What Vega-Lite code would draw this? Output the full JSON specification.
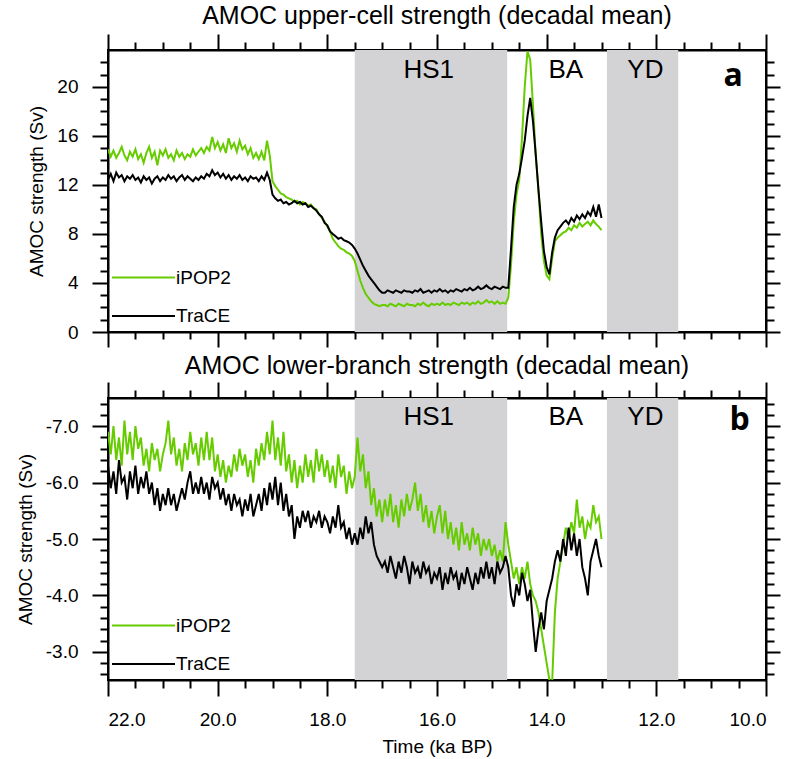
{
  "$schema": "https://vega.github.io/schema/vega-lite/v6.json",
  "background": "white",
  "padding": {"left": 15, "top": 3, "right": 0, "bottom": 0},
  "spacing": 4,
  "config": {
    "font": "Liberation Sans",
    "view": {"stroke": "black", "strokeWidth": 2},
    "axis": {"domainColor": "black", "domainWidth": 2, "tickColor": "black", "tickWidth": 2, "labelColor": "black", "labelFont": "Liberation Sans", "labelFontSize": 19, "titleFont": "Liberation Sans", "titleFontSize": 19, "titleFontWeight": "normal", "titleColor": "black", "grid": false},
    "title": {"font": "Liberation Sans", "fontSize": 25, "fontWeight": "normal", "color": "black"},
    "legend": {"padding": 0, "labelFont": "Liberation Sans", "labelFontSize": 19, "labelColor": "black", "symbolType": "stroke", "symbolSize": 3969, "symbolStrokeWidth": 2, "clipHeight": 19, "rowPadding": 18.5, "labelOffset": 0, "direction": "vertical", "columns": 1}
  },
  "resolve": {"scale": {"color": "independent"}, "legend": {"color": "independent"}},
  "datasets": {
    "shades": [{"start": 17.5, "end": 14.72}, {"start": 12.9, "end": 11.6}],
    "periods": [{"name": "HS1", "t": 16.15}, {"name": "BA", "t": 13.65}, {"name": "YD", "t": 12.2}],
    "series": [
      {"t":22.00,"uI":14.9,"uT":12.4,"lI":-6.9,"lT":-6.3},
      {"t":21.95,"uI":14.3,"uT":12.9,"lI":-6.5,"lT":-5.9},
      {"t":21.90,"uI":14.8,"uT":12.3,"lI":-7.0,"lT":-6.2},
      {"t":21.85,"uI":14.2,"uT":13.0,"lI":-6.4,"lT":-5.8},
      {"t":21.80,"uI":14.6,"uT":12.6,"lI":-6.8,"lT":-6.4},
      {"t":21.75,"uI":15.1,"uT":12.8,"lI":-6.3,"lT":-6.0},
      {"t":21.70,"uI":14.4,"uT":12.3,"lI":-7.1,"lT":-6.1},
      {"t":21.65,"uI":14.0,"uT":12.7,"lI":-6.5,"lT":-5.7},
      {"t":21.60,"uI":14.7,"uT":12.5,"lI":-6.9,"lT":-6.2},
      {"t":21.55,"uI":14.3,"uT":12.8,"lI":-6.4,"lT":-5.9},
      {"t":21.50,"uI":14.9,"uT":12.4,"lI":-7.0,"lT":-6.3},
      {"t":21.45,"uI":14.1,"uT":12.6,"lI":-6.6,"lT":-5.8},
      {"t":21.40,"uI":14.5,"uT":12.2,"lI":-6.8,"lT":-6.1},
      {"t":21.35,"uI":13.8,"uT":12.7,"lI":-6.3,"lT":-5.9},
      {"t":21.30,"uI":14.6,"uT":12.4,"lI":-6.6,"lT":-6.2},
      {"t":21.25,"uI":15.1,"uT":12.6,"lI":-6.2,"lT":-5.8},
      {"t":21.20,"uI":14.2,"uT":12.1,"lI":-6.7,"lT":-6.0},
      {"t":21.15,"uI":14.7,"uT":12.5,"lI":-6.4,"lT":-5.6},
      {"t":21.10,"uI":13.6,"uT":12.7,"lI":-6.6,"lT":-5.9},
      {"t":21.05,"uI":14.8,"uT":12.3,"lI":-6.2,"lT":-5.5},
      {"t":21.00,"uI":14.4,"uT":12.6,"lI":-6.5,"lT":-5.8},
      {"t":20.95,"uI":14.9,"uT":12.4,"lI":-6.7,"lT":-5.6},
      {"t":20.90,"uI":14.2,"uT":12.8,"lI":-7.1,"lT":-5.9},
      {"t":20.85,"uI":14.5,"uT":12.5,"lI":-6.5,"lT":-5.6},
      {"t":20.80,"uI":14.0,"uT":12.7,"lI":-6.8,"lT":-5.8},
      {"t":20.75,"uI":14.8,"uT":12.3,"lI":-6.3,"lT":-5.5},
      {"t":20.70,"uI":14.3,"uT":12.6,"lI":-6.6,"lT":-5.7},
      {"t":20.65,"uI":14.6,"uT":12.8,"lI":-6.2,"lT":-5.9},
      {"t":20.60,"uI":14.1,"uT":12.4,"lI":-6.7,"lT":-5.7},
      {"t":20.55,"uI":14.5,"uT":12.7,"lI":-6.4,"lT":-6.0},
      {"t":20.50,"uI":14.3,"uT":12.5,"lI":-6.9,"lT":-6.2},
      {"t":20.45,"uI":14.9,"uT":12.3,"lI":-6.5,"lT":-5.8},
      {"t":20.40,"uI":14.4,"uT":12.6,"lI":-6.7,"lT":-6.0},
      {"t":20.35,"uI":14.7,"uT":12.4,"lI":-6.3,"lT":-5.8},
      {"t":20.30,"uI":15.0,"uT":12.7,"lI":-6.8,"lT":-6.1},
      {"t":20.25,"uI":14.6,"uT":12.5,"lI":-6.4,"lT":-5.8},
      {"t":20.20,"uI":15.1,"uT":12.9,"lI":-6.9,"lT":-6.0},
      {"t":20.15,"uI":14.8,"uT":12.7,"lI":-6.4,"lT":-5.7},
      {"t":20.10,"uI":15.9,"uT":13.2,"lI":-6.8,"lT":-6.1},
      {"t":20.05,"uI":15.0,"uT":12.8,"lI":-6.2,"lT":-5.9},
      {"t":20.00,"uI":15.5,"uT":13.0,"lI":-6.5,"lT":-6.0},
      {"t":19.95,"uI":14.8,"uT":12.6,"lI":-6.1,"lT":-5.7},
      {"t":19.90,"uI":15.3,"uT":12.9,"lI":-6.4,"lT":-5.9},
      {"t":19.85,"uI":14.6,"uT":12.5,"lI":-6.0,"lT":-5.6},
      {"t":19.80,"uI":15.8,"uT":12.8,"lI":-6.3,"lT":-5.8},
      {"t":19.75,"uI":15.0,"uT":12.4,"lI":-6.1,"lT":-5.5},
      {"t":19.70,"uI":15.4,"uT":12.7,"lI":-6.5,"lT":-5.8},
      {"t":19.65,"uI":14.7,"uT":12.5,"lI":-6.2,"lT":-5.6},
      {"t":19.60,"uI":15.6,"uT":12.8,"lI":-6.6,"lT":-5.7},
      {"t":19.55,"uI":14.9,"uT":12.4,"lI":-6.3,"lT":-5.4},
      {"t":19.50,"uI":15.2,"uT":12.6,"lI":-6.5,"lT":-5.7},
      {"t":19.45,"uI":14.5,"uT":12.3,"lI":-6.1,"lT":-5.5},
      {"t":19.40,"uI":15.0,"uT":12.7,"lI":-6.4,"lT":-5.8},
      {"t":19.35,"uI":14.2,"uT":12.5,"lI":-6.0,"lT":-5.4},
      {"t":19.30,"uI":14.6,"uT":12.6,"lI":-6.6,"lT":-5.6},
      {"t":19.25,"uI":14.1,"uT":12.3,"lI":-6.3,"lT":-5.8},
      {"t":19.20,"uI":14.7,"uT":12.7,"lI":-6.7,"lT":-5.5},
      {"t":19.15,"uI":14.0,"uT":12.4,"lI":-6.4,"lT":-5.9},
      {"t":19.10,"uI":15.6,"uT":13.0,"lI":-6.9,"lT":-5.6},
      {"t":19.05,"uI":14.4,"uT":12.4,"lI":-6.5,"lT":-6.0},
      {"t":19.00,"uI":12.3,"uT":11.2,"lI":-7.1,"lT":-5.7},
      {"t":18.95,"uI":11.9,"uT":10.9,"lI":-6.4,"lT":-6.1},
      {"t":18.90,"uI":11.6,"uT":10.7,"lI":-6.8,"lT":-5.6},
      {"t":18.85,"uI":11.3,"uT":10.8,"lI":-6.3,"lT":-6.0},
      {"t":18.80,"uI":11.2,"uT":10.5,"lI":-6.9,"lT":-5.5},
      {"t":18.75,"uI":11.0,"uT":10.6,"lI":-6.2,"lT":-5.8},
      {"t":18.70,"uI":10.9,"uT":10.4,"lI":-6.5,"lT":-5.4},
      {"t":18.65,"uI":10.8,"uT":10.5,"lI":-6.0,"lT":-5.6},
      {"t":18.60,"uI":10.6,"uT":10.7,"lI":-6.4,"lT":-5.0},
      {"t":18.55,"uI":10.7,"uT":10.5,"lI":-5.9,"lT":-5.4},
      {"t":18.50,"uI":10.4,"uT":10.6,"lI":-6.3,"lT":-5.2},
      {"t":18.45,"uI":10.6,"uT":10.4,"lI":-6.0,"lT":-5.5},
      {"t":18.40,"uI":10.5,"uT":10.5,"lI":-6.5,"lT":-5.3},
      {"t":18.35,"uI":10.3,"uT":10.2,"lI":-6.1,"lT":-5.5},
      {"t":18.30,"uI":10.4,"uT":10.3,"lI":-6.4,"lT":-5.2},
      {"t":18.25,"uI":10.1,"uT":10.1,"lI":-6.0,"lT":-5.4},
      {"t":18.20,"uI":10.0,"uT":9.9,"lI":-6.6,"lT":-5.3},
      {"t":18.15,"uI":9.6,"uT":9.6,"lI":-6.2,"lT":-5.5},
      {"t":18.10,"uI":9.3,"uT":9.4,"lI":-6.5,"lT":-5.2},
      {"t":18.05,"uI":9.0,"uT":8.9,"lI":-6.1,"lT":-5.4},
      {"t":18.00,"uI":8.6,"uT":8.7,"lI":-6.4,"lT":-5.3},
      {"t":17.95,"uI":8.2,"uT":8.2,"lI":-6.0,"lT":-5.1},
      {"t":17.90,"uI":7.6,"uT":8.0,"lI":-6.3,"lT":-5.4},
      {"t":17.85,"uI":7.3,"uT":7.8,"lI":-5.9,"lT":-5.2},
      {"t":17.80,"uI":7.0,"uT":7.6,"lI":-6.5,"lT":-5.6},
      {"t":17.75,"uI":6.8,"uT":7.7,"lI":-6.1,"lT":-5.2},
      {"t":17.70,"uI":6.7,"uT":7.5,"lI":-6.3,"lT":-5.3},
      {"t":17.65,"uI":6.5,"uT":7.4,"lI":-5.8,"lT":-5.0},
      {"t":17.60,"uI":6.4,"uT":7.3,"lI":-6.2,"lT":-5.2},
      {"t":17.55,"uI":6.2,"uT":7.1,"lI":-5.9,"lT":-4.9},
      {"t":17.50,"uI":5.8,"uT":6.8,"lI":-6.1,"lT":-5.1},
      {"t":17.45,"uI":5.0,"uT":6.4,"lI":-6.8,"lT":-4.9},
      {"t":17.40,"uI":4.2,"uT":5.9,"lI":-6.2,"lT":-5.2},
      {"t":17.35,"uI":3.6,"uT":5.4,"lI":-6.5,"lT":-5.0},
      {"t":17.30,"uI":3.1,"uT":5.0,"lI":-5.9,"lT":-5.4},
      {"t":17.25,"uI":2.8,"uT":4.6,"lI":-6.2,"lT":-5.1},
      {"t":17.20,"uI":2.5,"uT":4.3,"lI":-5.6,"lT":-5.3},
      {"t":17.15,"uI":2.3,"uT":4.0,"lI":-5.9,"lT":-4.9},
      {"t":17.10,"uI":2.2,"uT":3.7,"lI":-5.4,"lT":-4.7},
      {"t":17.05,"uI":2.1,"uT":3.4,"lI":-5.7,"lT":-4.6},
      {"t":17.00,"uI":2.2,"uT":3.2,"lI":-5.3,"lT":-4.5},
      {"t":16.95,"uI":2.2,"uT":3.2,"lI":-5.7,"lT":-4.6},
      {"t":16.90,"uI":2.1,"uT":3.4,"lI":-5.4,"lT":-4.4},
      {"t":16.85,"uI":2.3,"uT":3.3,"lI":-5.8,"lT":-4.7},
      {"t":16.80,"uI":2.2,"uT":3.2,"lI":-5.3,"lT":-4.5},
      {"t":16.75,"uI":2.1,"uT":3.4,"lI":-5.6,"lT":-4.3},
      {"t":16.70,"uI":2.3,"uT":3.3,"lI":-5.2,"lT":-4.6},
      {"t":16.65,"uI":2.2,"uT":3.2,"lI":-5.7,"lT":-4.4},
      {"t":16.60,"uI":2.1,"uT":3.4,"lI":-5.4,"lT":-4.7},
      {"t":16.55,"uI":2.3,"uT":3.3,"lI":-5.8,"lT":-4.5},
      {"t":16.50,"uI":2.2,"uT":3.3,"lI":-5.5,"lT":-4.2},
      {"t":16.45,"uI":2.2,"uT":3.2,"lI":-5.7,"lT":-4.6},
      {"t":16.40,"uI":2.1,"uT":3.4,"lI":-6.0,"lT":-4.4},
      {"t":16.35,"uI":2.3,"uT":3.3,"lI":-5.5,"lT":-4.5},
      {"t":16.30,"uI":2.2,"uT":3.5,"lI":-5.8,"lT":-4.3},
      {"t":16.25,"uI":2.4,"uT":3.2,"lI":-5.3,"lT":-4.6},
      {"t":16.20,"uI":2.2,"uT":3.3,"lI":-5.6,"lT":-4.4},
      {"t":16.15,"uI":2.1,"uT":3.4,"lI":-5.2,"lT":-4.5},
      {"t":16.10,"uI":2.3,"uT":3.2,"lI":-5.5,"lT":-4.2},
      {"t":16.05,"uI":2.2,"uT":3.4,"lI":-5.1,"lT":-4.4},
      {"t":16.00,"uI":2.3,"uT":3.3,"lI":-5.4,"lT":-4.3},
      {"t":15.95,"uI":2.2,"uT":3.5,"lI":-5.6,"lT":-4.5},
      {"t":15.90,"uI":2.4,"uT":3.3,"lI":-5.1,"lT":-4.1},
      {"t":15.85,"uI":2.2,"uT":3.4,"lI":-5.5,"lT":-4.4},
      {"t":15.80,"uI":2.3,"uT":3.2,"lI":-5.0,"lT":-4.2},
      {"t":15.75,"uI":2.2,"uT":3.4,"lI":-5.3,"lT":-4.5},
      {"t":15.70,"uI":2.4,"uT":3.3,"lI":-4.9,"lT":-4.3},
      {"t":15.65,"uI":2.3,"uT":3.5,"lI":-5.2,"lT":-4.4},
      {"t":15.60,"uI":2.2,"uT":3.4,"lI":-4.8,"lT":-4.1},
      {"t":15.55,"uI":2.4,"uT":3.3,"lI":-5.3,"lT":-4.4},
      {"t":15.50,"uI":2.3,"uT":3.5,"lI":-4.9,"lT":-4.2},
      {"t":15.45,"uI":2.4,"uT":3.4,"lI":-5.1,"lT":-4.5},
      {"t":15.40,"uI":2.2,"uT":3.6,"lI":-4.8,"lT":-4.3},
      {"t":15.35,"uI":2.4,"uT":3.4,"lI":-5.2,"lT":-4.1},
      {"t":15.30,"uI":2.3,"uT":3.5,"lI":-4.9,"lT":-4.4},
      {"t":15.25,"uI":2.5,"uT":3.7,"lI":-5.1,"lT":-4.2},
      {"t":15.20,"uI":2.3,"uT":3.5,"lI":-4.7,"lT":-4.5},
      {"t":15.15,"uI":2.4,"uT":3.6,"lI":-5.0,"lT":-4.3},
      {"t":15.10,"uI":2.6,"uT":3.8,"lI":-4.8,"lT":-4.6},
      {"t":15.05,"uI":2.4,"uT":3.6,"lI":-5.0,"lT":-4.3},
      {"t":15.00,"uI":2.5,"uT":3.5,"lI":-4.7,"lT":-4.5},
      {"t":14.95,"uI":2.3,"uT":3.7,"lI":-4.9,"lT":-4.2},
      {"t":14.90,"uI":2.5,"uT":3.6,"lI":-4.6,"lT":-4.6},
      {"t":14.85,"uI":2.3,"uT":3.5,"lI":-4.8,"lT":-4.4},
      {"t":14.80,"uI":2.4,"uT":3.7,"lI":-4.6,"lT":-4.5},
      {"t":14.75,"uI":2.3,"uT":3.6,"lI":-5.3,"lT":-4.7},
      {"t":14.70,"uI":2.8,"uT":3.6,"lI":-4.9,"lT":-4.5},
      {"t":14.65,"uI":5.5,"uT":6.8,"lI":-4.6,"lT":-4.0},
      {"t":14.60,"uI":9.0,"uT":10.2,"lI":-4.3,"lT":-3.8},
      {"t":14.55,"uI":11.2,"uT":12.0,"lI":-4.5,"lT":-4.2},
      {"t":14.50,"uI":12.4,"uT":12.9,"lI":-4.2,"lT":-4.0},
      {"t":14.45,"uI":15.8,"uT":14.2,"lI":-4.5,"lT":-4.4},
      {"t":14.40,"uI":20.0,"uT":15.6,"lI":-4.3,"lT":-4.2},
      {"t":14.35,"uI":22.9,"uT":17.6,"lI":-4.6,"lT":-3.9},
      {"t":14.30,"uI":22.2,"uT":19.1,"lI":-4.2,"lT":-4.1},
      {"t":14.25,"uI":18.5,"uT":17.2,"lI":-4.0,"lT":-3.5},
      {"t":14.20,"uI":14.5,"uT":14.5,"lI":-3.9,"lT":-3.0},
      {"t":14.15,"uI":11.6,"uT":11.6,"lI":-3.7,"lT":-3.4},
      {"t":14.10,"uI":8.0,"uT":9.0,"lI":-3.4,"lT":-3.7},
      {"t":14.05,"uI":5.8,"uT":6.6,"lI":-3.1,"lT":-3.4},
      {"t":14.00,"uI":4.6,"uT":5.3,"lI":-2.8,"lT":-3.9},
      {"t":13.95,"uI":4.3,"uT":4.7,"lI":-2.5,"lT":-4.1},
      {"t":13.90,"uI":6.0,"uT":6.5,"lI":-2.45,"lT":-4.3},
      {"t":13.85,"uI":7.4,"uT":7.7,"lI":-3.7,"lT":-4.6},
      {"t":13.80,"uI":7.7,"uT":8.3,"lI":-4.3,"lT":-4.8},
      {"t":13.75,"uI":7.9,"uT":8.6,"lI":-4.6,"lT":-4.6},
      {"t":13.70,"uI":8.1,"uT":8.9,"lI":-4.9,"lT":-5.0},
      {"t":13.65,"uI":8.2,"uT":9.1,"lI":-5.2,"lT":-4.7},
      {"t":13.60,"uI":8.5,"uT":8.8,"lI":-5.0,"lT":-5.2},
      {"t":13.55,"uI":8.3,"uT":9.3,"lI":-5.3,"lT":-4.8},
      {"t":13.50,"uI":8.7,"uT":9.0,"lI":-5.1,"lT":-5.1},
      {"t":13.45,"uI":8.5,"uT":9.5,"lI":-5.7,"lT":-4.7},
      {"t":13.40,"uI":8.9,"uT":9.2,"lI":-5.2,"lT":-5.0},
      {"t":13.35,"uI":8.6,"uT":9.6,"lI":-5.4,"lT":-4.5},
      {"t":13.30,"uI":8.8,"uT":9.3,"lI":-5.0,"lT":-4.3},
      {"t":13.25,"uI":9.0,"uT":9.8,"lI":-5.3,"lT":-4.0},
      {"t":13.20,"uI":8.7,"uT":9.5,"lI":-5.2,"lT":-4.6},
      {"t":13.15,"uI":9.1,"uT":10.2,"lI":-5.6,"lT":-4.8},
      {"t":13.10,"uI":8.8,"uT":9.4,"lI":-5.3,"lT":-5.0},
      {"t":13.05,"uI":8.6,"uT":10.4,"lI":-5.4,"lT":-4.7},
      {"t":13.00,"uI":8.3,"uT":9.3,"lI":-5.0,"lT":-4.5}
    ]
  },
  "vconcat": [
    {
      "width": 658,
      "height": 282,
      "title": {"text": "AMOC upper-cell strength (decadal mean)", "offset": 4},
      "resolve": {"axis": {"x": "independent", "y": "independent"}},
      "layer": [
        {
          "data": {"name": "shades"},
          "mark": {"type": "rect", "color": "#d3d3d5"},
          "encoding": {
            "x": {"field": "start", "type": "quantitative", "scale": {"domain": [10, 22], "reverse": true, "nice": false, "zero": false},
                  "axis": {"orient": "bottom", "values": [10,10.5,11,11.5,12,12.5,13,13.5,14,14.5,15,15.5,16,16.5,17,17.5,18,18.5,19,19.5,20,20.5,21,21.5,22], "labels": false, "title": null,
                           "tickSize": {"condition": {"test": "datum.value % 2 === 0", "value": 15}, "value": 7}}},
            "x2": {"field": "end"}
          }
        },
        {
          "data": {"name": "series"},
          "transform": [{"fold": ["uI", "uT"], "as": ["model", "v"]}],
          "mark": {"type": "line", "strokeWidth": 2, "clip": true},
          "encoding": {
            "x": {"field": "t", "type": "quantitative", "scale": {"domain": [10, 22], "reverse": true, "nice": false, "zero": false},
                  "axis": {"orient": "top", "values": [10,10.5,11,11.5,12,12.5,13,13.5,14,14.5,15,15.5,16,16.5,17,17.5,18,18.5,19,19.5,20,20.5,21,21.5,22], "labels": false, "title": null,
                           "tickSize": {"condition": {"test": "datum.value % 2 === 0", "value": 16}, "value": 8}}},
            "y": {"field": "v", "type": "quantitative", "scale": {"domain": [0, 23], "nice": false, "zero": false},
                  "axis": {"orient": "left", "values": [0,1,2,3,4,5,6,7,8,9,10,11,12,13,14,15,16,17,18,19,20,21,22], "labelExpr": "datum.value % 4 === 0 ? datum.label : ''", "title": "AMOC strength (Sv)", "titlePadding": 10, "labelPadding": 14,
                           "tickSize": {"condition": {"test": "datum.value % 4 === 0", "value": 16}, "value": 8}}},
            "color": {"field": "model", "type": "nominal", "scale": {"domain": ["uI", "uT"], "range": ["#66cc00", "#000000"]},
                      "legend": {"title": null, "orient": "none", "legendX": 3, "legendY": 218, "labelExpr": "datum.value === 'uI' ? 'iPOP2' : 'TraCE'"}}
          }
        },
        {
          "data": {"name": "periods"},
          "mark": {"type": "text", "fontSize": 26, "baseline": "alphabetic", "align": "center", "color": "black"},
          "encoding": {
            "x": {"field": "t", "type": "quantitative", "scale": {"domain": [10, 22], "reverse": true, "nice": false, "zero": false}, "axis": null},
            "y": {"datum": 20.7, "type": "quantitative", "scale": {"domain": [0, 23], "nice": false, "zero": false},
                  "axis": {"orient": "right", "values": [0,1,2,3,4,5,6,7,8,9,10,11,12,13,14,15,16,17,18,19,20,21,22], "labels": false, "title": null,
                           "tickSize": {"condition": {"test": "datum.value % 4 === 0", "value": 14}, "value": 8}}},
            "text": {"field": "name"}
          }
        },
        {
          "data": {"values": [{"p": "a"}]},
          "mark": {"type": "text", "fontSize": 32, "fontWeight": "bold", "font": "Open Sans", "baseline": "alphabetic", "align": "center", "color": "black"},
          "encoding": {
            "x": {"datum": 10.6, "type": "quantitative", "scale": {"domain": [10, 22], "reverse": true, "nice": false, "zero": false}, "axis": null},
            "y": {"datum": 20.05, "type": "quantitative", "scale": {"domain": [0, 23], "nice": false, "zero": false}, "axis": null},
            "text": {"field": "p"}
          }
        }
      ]
    },
    {
      "width": 658,
      "height": 282,
      "title": {"text": "AMOC lower-branch strength (decadal mean)", "offset": 2},
      "resolve": {"axis": {"x": "independent", "y": "independent"}},
      "layer": [
        {
          "data": {"name": "shades"},
          "mark": {"type": "rect", "color": "#d3d3d5"},
          "encoding": {
            "x": {"field": "start", "type": "quantitative", "scale": {"domain": [10, 22], "reverse": true, "nice": false, "zero": false},
                  "axis": {"orient": "bottom", "values": [10,10.5,11,11.5,12,12.5,13,13.5,14,14.5,15,15.5,16,16.5,17,17.5,18,18.5,19,19.5,20,20.5,21,21.5,22], "labelExpr": "datum.value % 2 === 0 ? format(datum.value, '.1f') : ''", "labelPadding": 14, "title": "Time (ka BP)", "titlePadding": 8,
                           "tickSize": {"condition": {"test": "datum.value % 2 === 0", "value": 16}, "value": 8}}},
            "x2": {"field": "end"}
          }
        },
        {
          "data": {"name": "series"},
          "transform": [{"fold": ["lI", "lT"], "as": ["model", "v"]}],
          "mark": {"type": "line", "strokeWidth": 2, "clip": true},
          "encoding": {
            "x": {"field": "t", "type": "quantitative", "scale": {"domain": [10, 22], "reverse": true, "nice": false, "zero": false},
                  "axis": {"orient": "top", "values": [10,10.5,11,11.5,12,12.5,13,13.5,14,14.5,15,15.5,16,16.5,17,17.5,18,18.5,19,19.5,20,20.5,21,21.5,22], "labels": false, "title": null,
                           "tickSize": {"condition": {"test": "datum.value % 2 === 0", "value": 16}, "value": 8}}},
            "y": {"field": "v", "type": "quantitative", "scale": {"domain": [-7.5, -2.5], "reverse": true, "nice": false, "zero": false},
                  "axis": {"orient": "left", "values": [-7.4,-7.2,-7.0,-6.8,-6.6,-6.4,-6.2,-6.0,-5.8,-5.6,-5.4,-5.2,-5.0,-4.8,-4.6,-4.4,-4.2,-4.0,-3.8,-3.6,-3.4,-3.2,-3.0,-2.8,-2.6], "labelExpr": "abs(datum.value - round(datum.value)) < 0.001 ? replace(format(datum.value, '.1f'), '\u2212', '-') : ''", "title": "AMOC strength (Sv)", "titlePadding": 10, "labelPadding": 14,
                           "tickSize": {"condition": {"test": "abs(datum.value - round(datum.value)) < 0.001", "value": 16}, "value": 8}}},
            "color": {"field": "model", "type": "nominal", "scale": {"domain": ["lI", "lT"], "range": ["#66cc00", "#000000"]},
                      "legend": {"title": null, "orient": "none", "legendX": 3, "legendY": 218, "labelExpr": "datum.value === 'lI' ? 'iPOP2' : 'TraCE'"}}
          }
        },
        {
          "data": {"name": "periods"},
          "mark": {"type": "text", "fontSize": 26, "baseline": "alphabetic", "align": "center", "color": "black"},
          "encoding": {
            "x": {"field": "t", "type": "quantitative", "scale": {"domain": [10, 22], "reverse": true, "nice": false, "zero": false}, "axis": null},
            "y": {"datum": -7.02, "type": "quantitative", "scale": {"domain": [-7.5, -2.5], "reverse": true, "nice": false, "zero": false},
                  "axis": {"orient": "right", "values": [-7.4,-7.2,-7.0,-6.8,-6.6,-6.4,-6.2,-6.0,-5.8,-5.6,-5.4,-5.2,-5.0,-4.8,-4.6,-4.4,-4.2,-4.0,-3.8,-3.6,-3.4,-3.2,-3.0,-2.8,-2.6], "labels": false, "title": null,
                           "tickSize": {"condition": {"test": "abs(datum.value - round(datum.value)) < 0.001", "value": 14}, "value": 8}}},
            "text": {"field": "name"}
          }
        },
        {
          "data": {"values": [{"p": "b"}]},
          "mark": {"type": "text", "fontSize": 32, "fontWeight": "bold", "font": "Open Sans", "baseline": "alphabetic", "align": "center", "color": "black"},
          "encoding": {
            "x": {"datum": 10.48, "type": "quantitative", "scale": {"domain": [10, 22], "reverse": true, "nice": false, "zero": false}, "axis": null},
            "y": {"datum": -6.93, "type": "quantitative", "scale": {"domain": [-7.5, -2.5], "reverse": true, "nice": false, "zero": false}, "axis": null},
            "text": {"field": "p"}
          }
        }
      ]
    }
  ]
}
